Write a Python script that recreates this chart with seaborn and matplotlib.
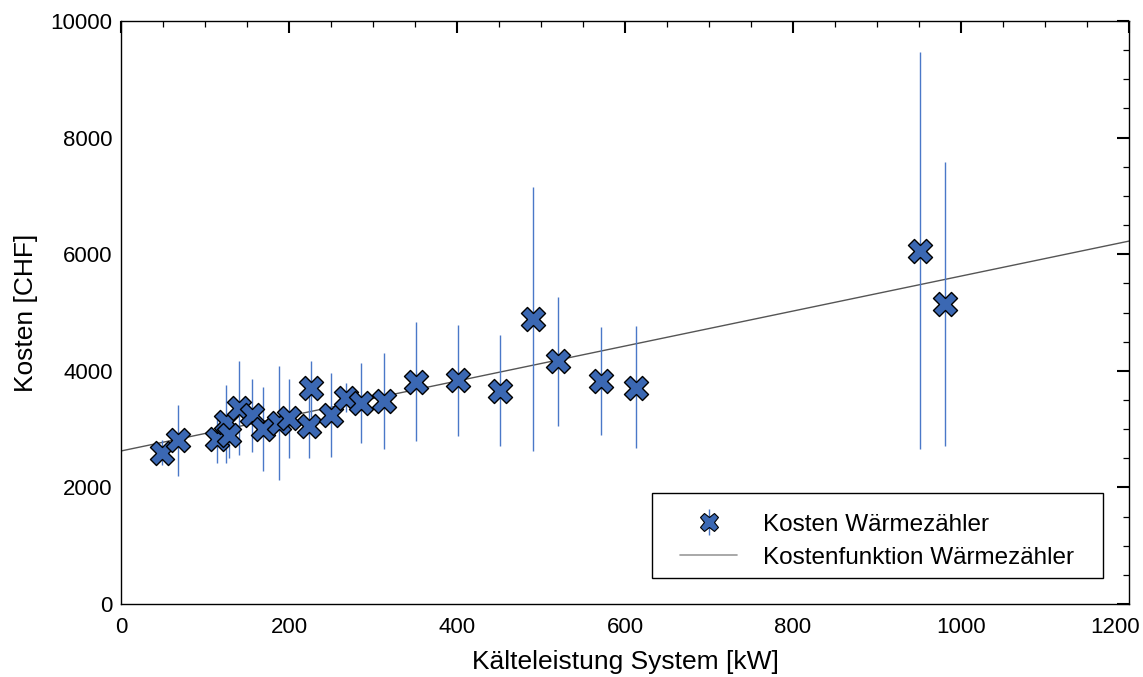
import matplotlib
matplotlib.use("Agg")
import matplotlib.pyplot as plt
import matplotlib.transforms as mtransforms
import seaborn as sns
import numpy as np
import pandas as pd
from matplotlib.lines import Line2D
from matplotlib.patches import Rectangle
from matplotlib.legend_handler import HandlerTuple
from matplotlib.ticker import MultipleLocator

# --- data ---
leistung_kw = [49, 68, 114, 125, 129, 140, 156, 169, 188, 200, 226, 224,
               250, 268, 286, 313, 351, 401, 451, 491, 520, 571, 613, 951, 981]
kosten_chf = [2590, 2813, 2830, 3122, 2899, 3362, 3242, 3002, 3105, 3190, 3705, 3053,
              3242, 3533, 3448, 3482, 3808, 3842, 3654, 4889, 4168, 3825, 3705, 6055, 5146]
kosten_min = [2384, 2196, 2419, 2419, 2504, 2556, 2607, 2281, 2127, 2504, 3200, 2504,
              2521, 3293, 2762, 2659, 2796, 2882, 2710, 2624, 3053, 2899, 2676, 2659, 2710]
kosten_max = [2813, 3413, 3276, 3756, 3293, 4168, 3859, 3722, 4082, 3859, 4168, 3600,
              3962, 3790, 4134, 4305, 4837, 4785, 4614, 7153, 5266, 4751, 4768, 9468, 7581]

fit_intercept = 2625.0
fit_slope = 3.0
fit_x = [0, 1200]

df = pd.DataFrame({"x": leistung_kw, "y": kosten_chf,
                   "lo": kosten_min, "hi": kosten_max})
fit_df = pd.DataFrame({"x": fit_x,
                       "y": [fit_intercept + fit_slope * v for v in fit_x]})

sns.set_style("white")
plt.rcParams["font.family"] = ["Liberation Sans", "DejaVu Sans"]
plt.rcParams["text.color"] = "black"
plt.rcParams["axes.labelcolor"] = "black"

fig = plt.figure(figsize=(11.43, 6.77), dpi=100)
ax = fig.add_axes([0.1059, 0.1078, 0.8819, 0.8612])

bar_color = "#4a78c8"
marker_face = "#3b68b3"

ax.vlines(df["x"], df["lo"], df["hi"], color=bar_color, lw=1.0, zorder=2)
sns.lineplot(data=fit_df, x="x", y="y", ax=ax, color="#555555", lw=1.0, zorder=1)
sns.scatterplot(data=df, x="x", y="y", ax=ax, marker="X", s=300,
                color=marker_face, edgecolor="black", linewidth=1.0, zorder=3)

ax.set_xlim(0, 1200)
ax.set_ylim(0, 10000)
ax.xaxis.set_major_locator(MultipleLocator(200))
ax.xaxis.set_minor_locator(MultipleLocator(50))
ax.yaxis.set_major_locator(MultipleLocator(2000))
ax.yaxis.set_minor_locator(MultipleLocator(500))
ax.tick_params(which="both", direction="in", top=True, right=True,
               colors="black", labelcolor="black")
ax.tick_params(which="major", length=8.6, width=1.5, labelsize=16)
ax.tick_params(axis="x", which="major", pad=9)
ax.tick_params(axis="y", which="major", pad=6)
ax.tick_params(which="minor", length=4.3, width=0.9)
for sp in ax.spines.values():
    sp.set_color("black")
    sp.set_linewidth(1.0)

ax.set_xlabel("Kälteleistung System [kW]", fontsize=19, labelpad=9, color="black")
ax.set_ylabel("Kosten [CHF]", fontsize=19, labelpad=9, color="black")

# shift the last x tick label left so it stays inside the figure
fig.canvas.draw()
offset = mtransforms.ScaledTranslation(-14 / 100, 0, fig.dpi_scale_trans)
for lab in ax.get_xticklabels():
    if lab.get_text() == "1200":
        lab.set_transform(lab.get_transform() + offset)

# legend frame
frame = Rectangle((0.5268, 0.0446), 0.4474, 0.1458, transform=ax.transAxes,
                  facecolor="white", edgecolor="black", lw=1.0, zorder=4)
ax.add_patch(frame)

h_bar = Line2D([], [], ls="none", marker="|", markersize=19,
               markeredgecolor=bar_color, markeredgewidth=1.0)
h_mark = Line2D([], [], ls="none", marker="X", markersize=13,
                markerfacecolor=marker_face, markeredgecolor="black", markeredgewidth=0.8)
h_line = Line2D([], [], color="#999999", lw=1.2)
leg = ax.legend([(h_bar, h_mark), h_line],
                ["Kosten Wärmezähler", "Kostenfunktion Wärmezähler"],
                handler_map={tuple: HandlerTuple(ndivide=1)},
                loc="upper left", bbox_to_anchor=(0.5546, 0.155),
                fontsize=17.5, frameon=False, borderpad=0, handlelength=2.35,
                handletextpad=1.07, borderaxespad=0, labelspacing=0.45)
leg.set_zorder(5)
for t in leg.get_texts():
    t.set_color("black")

fig.savefig("out.png", dpi=100)
